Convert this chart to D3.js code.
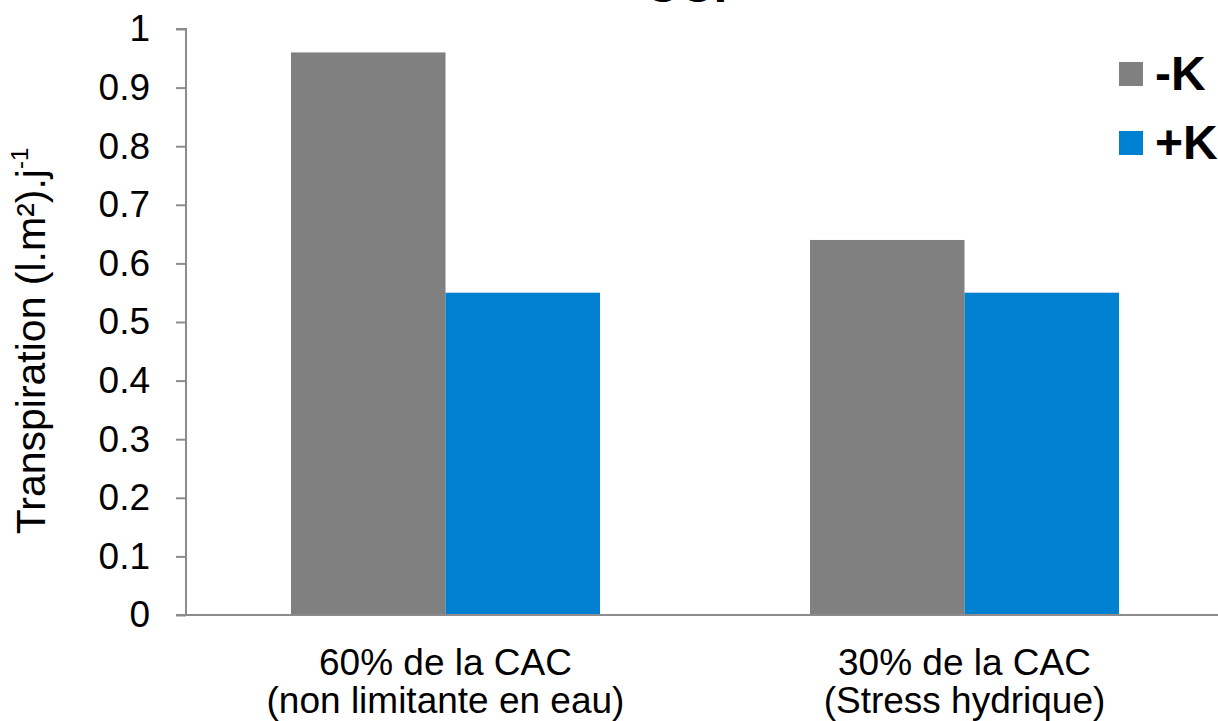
<!DOCTYPE html>
<html>
<head>
<meta charset="utf-8">
<script src="https://cdn.jsdelivr.net/npm/d3@7"></script>
<style>
  html, body { margin: 0; padding: 0; background: #fff; }
  svg { display: block; font-family: "Liberation Sans", Arial, sans-serif; }
</style>
</head>
<body>
<svg id="chart" width="1218" height="721"></svg>
<script>
// Transpiration by water regime and potassium treatment
const categories = ["60% de la CAC|(non limitante en eau)", "30% de la CAC|(Stress hydrique)"];
const seriesNames = ["-K", "+K"];
const minusK = [0.96, 0.64];
const plusK = [0.55, 0.55];
const yTicks = [0, 0.1, 0.2, 0.3, 0.4, 0.5, 0.6, 0.7, 0.8, 0.9, 1];
const colors = ["#808080", "#0080D0"];

const svg = d3.select("#chart");
const W = 1218, H = 721;
const plotLeft = 186, plotTop = 29, plotBottom = 615, plotRight = 1224;

const x = d3.scaleBand().domain(categories).range([plotLeft, plotRight]).paddingInner(0).paddingOuter(0);
const y = d3.scaleLinear().domain([0, 1]).range([plotBottom, plotTop]);
const groupWidth = 309;
const xs = d3.scaleBand().domain(seriesNames).range([0, groupWidth]).padding(0);

// Title (runs off the top edge)
svg.append("text")
  .attr("x", 695).attr("y", 2)
  .attr("text-anchor", "middle")
  .attr("font-size", 48).attr("font-weight", "bold")
  .attr("fill", "#000")
  .text("CCP");

// Bars
const rows = categories.map((c, i) => ({ cat: c, vals: [minusK[i], plusK[i]] }));
const groups = svg.append("g").selectAll("g").data(rows).join("g")
  .attr("transform", d => `translate(${x(d.cat) + x.bandwidth() / 2 - groupWidth / 2},0)`);
groups.selectAll("rect")
  .data(d => d.vals.map((v, j) => ({ v, s: seriesNames[j], j })))
  .join("rect")
  .attr("x", d => xs(d.s))
  .attr("width", xs.bandwidth())
  .attr("y", d => y(d.v))
  .attr("height", d => y(0) - y(d.v))
  .attr("fill", d => colors[d.j]);

// Y axis
const yAxis = d3.axisLeft(y).tickValues(yTicks).tickSize(10).tickPadding(26)
  .tickFormat(d => d === 0 || d === 1 ? d3.format("d")(d) : d3.format(".1f")(d));
const gy = svg.append("g").attr("transform", `translate(${plotLeft},0)`).call(yAxis);
gy.select(".domain").attr("stroke", "#8c8c8c").attr("stroke-width", 2).attr("d", `M-10,${plotTop}H0V${plotBottom}`);
gy.selectAll(".tick line").attr("stroke", "#8c8c8c").attr("stroke-width", 2);
gy.selectAll(".tick text").attr("font-size", 37).attr("fill", "#000")
  .attr("font-family", "Liberation Sans, Arial, sans-serif");

// X axis baseline
svg.append("line")
  .attr("x1", plotLeft - 10).attr("x2", W)
  .attr("y1", plotBottom).attr("y2", plotBottom)
  .attr("stroke", "#8c8c8c").attr("stroke-width", 2);

// Category labels
const catLabels = svg.append("g").selectAll("text").data(categories).join("text")
  .attr("x", d => x(d) + x.bandwidth() / 2)
  .attr("y", 675)
  .attr("text-anchor", "middle")
  .attr("font-size", 37)
  .attr("fill", "#000");
catLabels.each(function(d) {
  const parts = d.split("|");
  const t = d3.select(this);
  parts.forEach((p, k) => {
    t.append("tspan").attr("x", x(d) + x.bandwidth() / 2).attr("dy", k === 0 ? 0 : 38).text(p);
  });
});

// Y axis title
const yt = svg.append("text")
  .attr("transform", `translate(45,341) rotate(-90)`)
  .attr("text-anchor", "middle")
  .attr("font-size", 41)
  .attr("fill", "#000");
yt.append("tspan").text("Transpiration (l.m²).j");
yt.append("tspan").attr("font-size", 24).attr("dy", -17).text("-1");

// Legend
const legend = svg.append("g").selectAll("g").data(seriesNames).join("g")
  .attr("transform", (d, i) => `translate(1119,${62 + i * 69})`);
legend.append("rect").attr("width", 24).attr("height", 24).attr("fill", (d, i) => colors[i]);
legend.append("text")
  .attr("x", 36).attr("y", 28)
  .attr("font-size", 48).attr("font-weight", "bold").attr("fill", "#000")
  .text(d => d);
</script>
</body>
</html>
